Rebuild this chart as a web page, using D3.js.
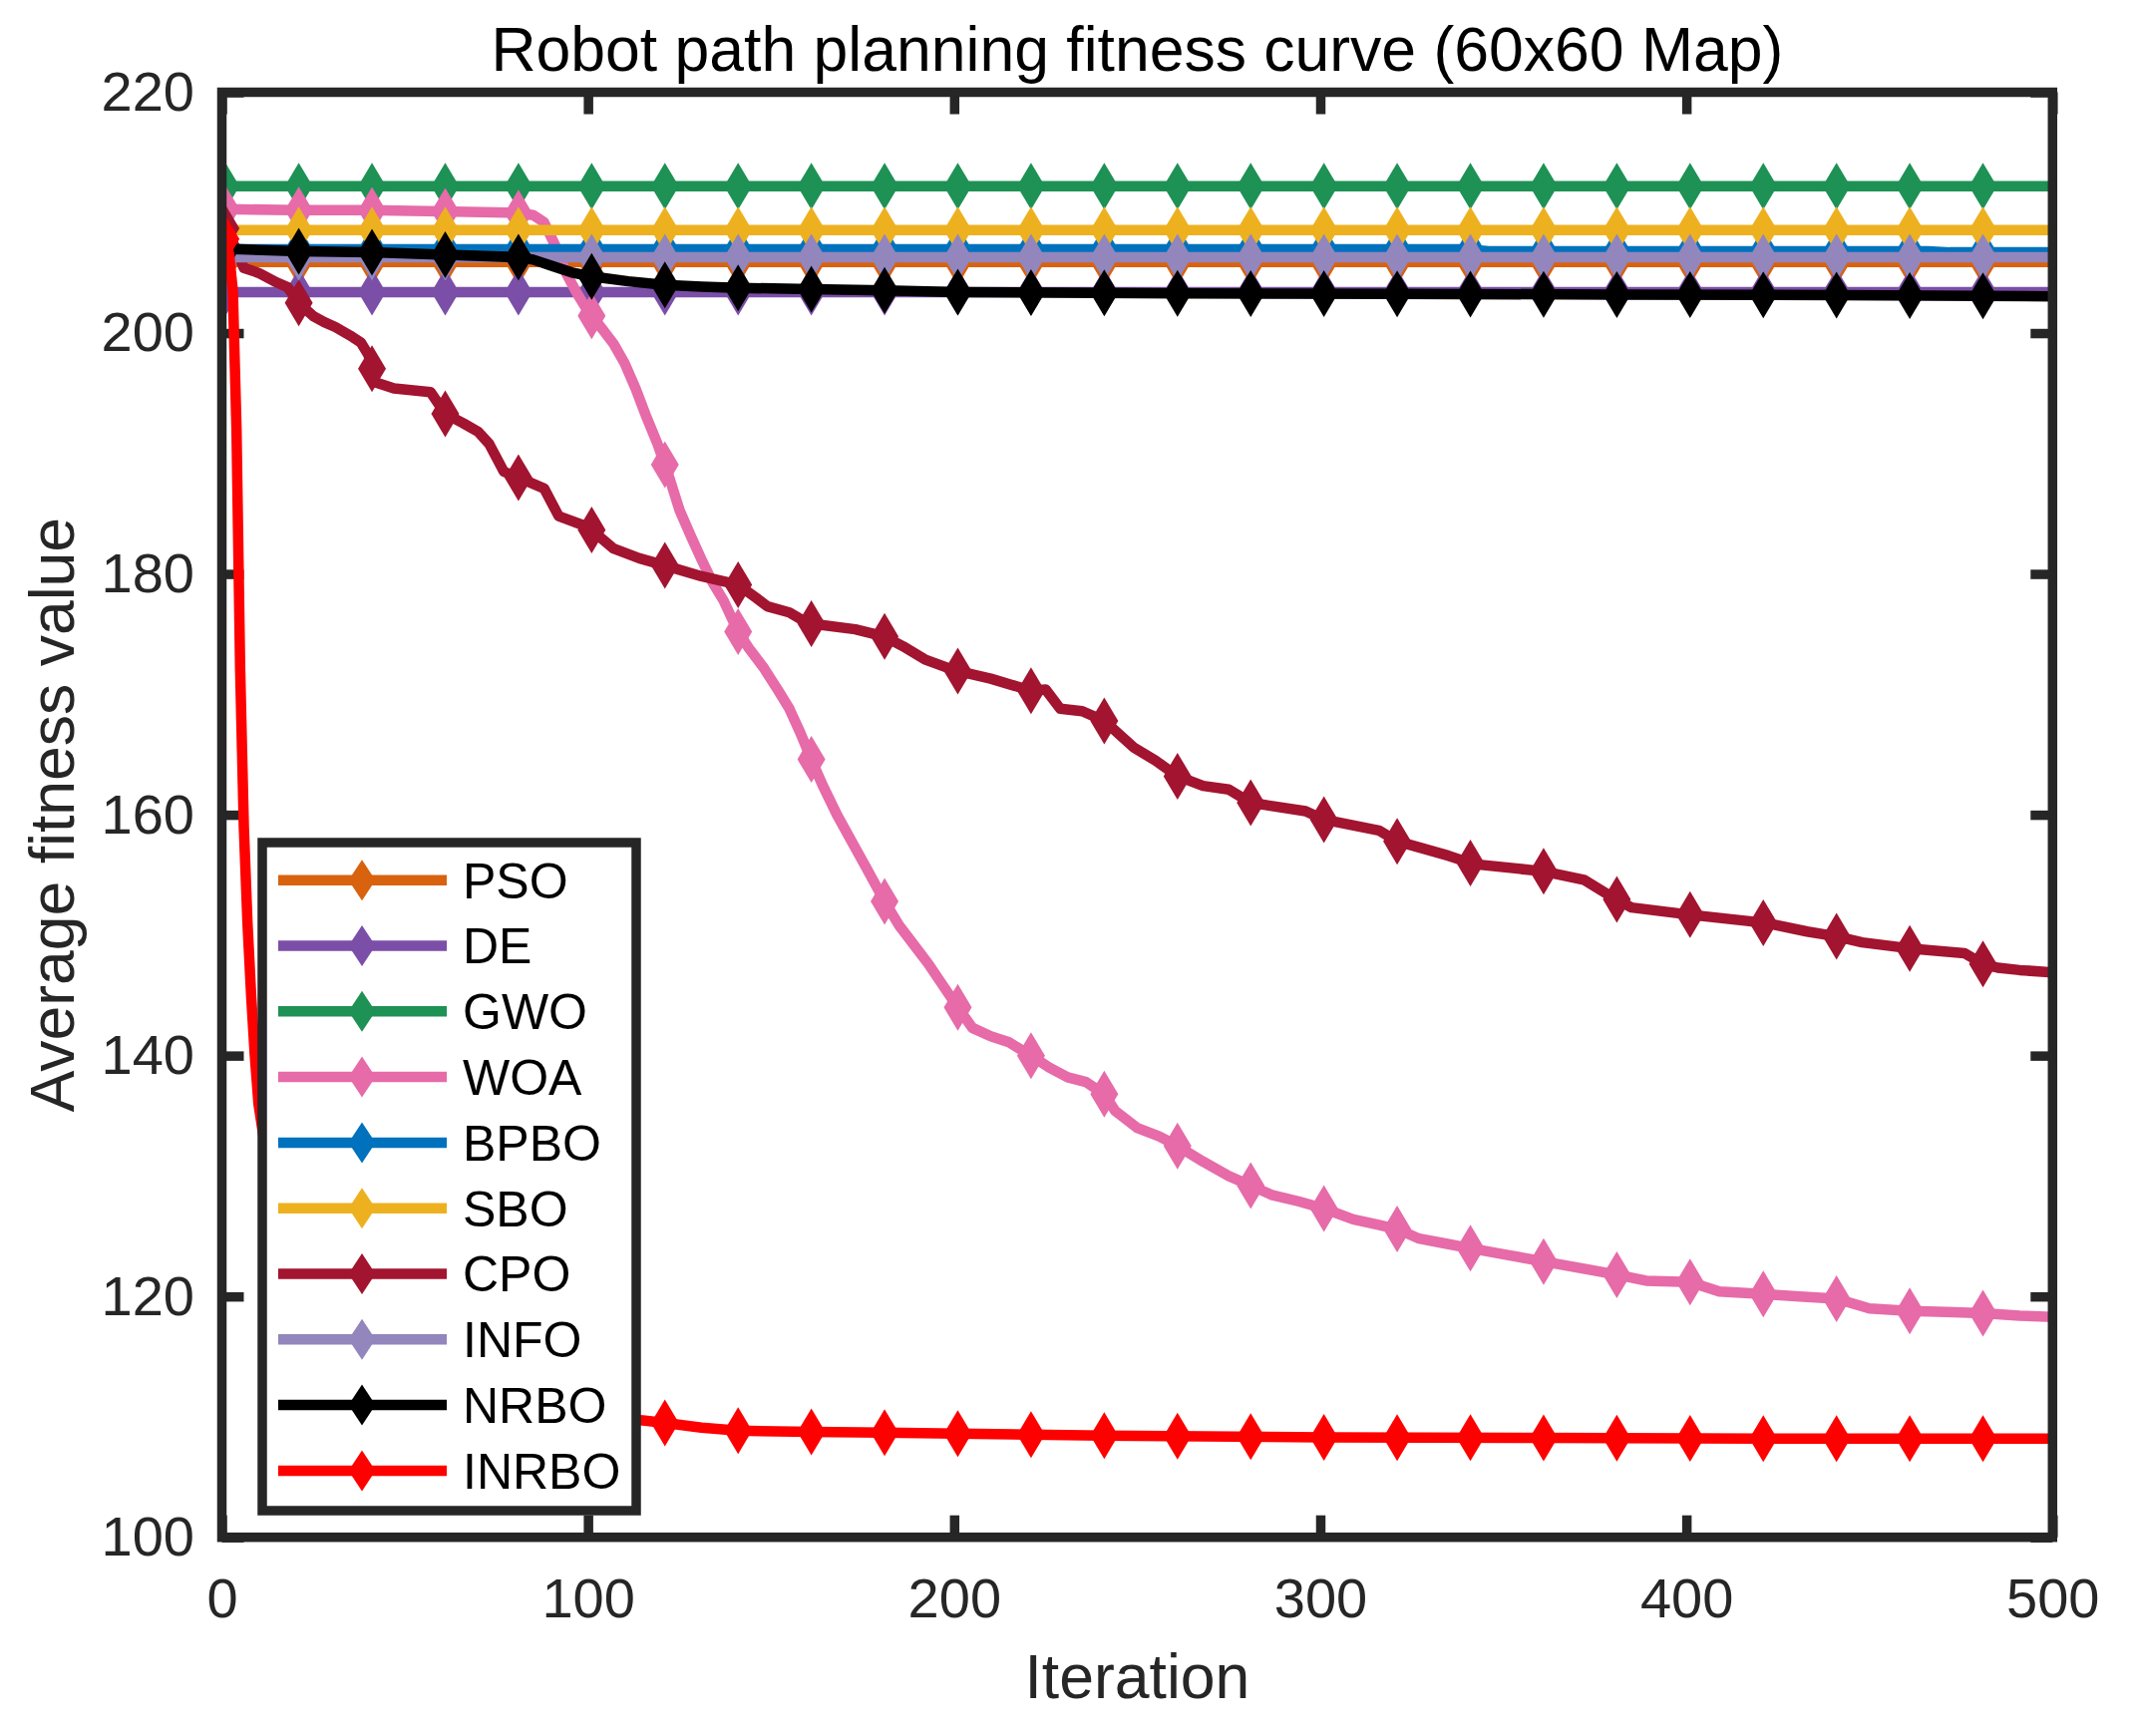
<!DOCTYPE html>
<html>
<head>
<meta charset="utf-8">
<title>Robot path planning fitness curve</title>
<script src="https://d3js.org/d3.v7.min.js"></script>
<style>
  body { margin: 0; background: #fff; }
  text { font-family: "Liberation Sans", Arial, Helvetica, sans-serif; }
</style>
</head>
<body>
<script>
// ---- data ----
const names  = ['PSO', 'DE', 'GWO', 'WOA', 'BPBO', 'SBO', 'CPO', 'INFO', 'NRBO', 'INRBO'];
const colors = ['#D9620F', '#7B4EA8', '#1E9155', '#E66BA8', '#0072BD', '#EDB120', '#A2142F', '#9286BD', '#000000', '#FF0000'];

const xTicks = [0, 100, 200, 300, 400, 500];
const yTicks = [100, 120, 140, 160, 180, 200, 220];
const markerIters = d3.range(1, 500, 20);   // a marker every 20 iterations

const psoX = [1, 500];
const psoY = [205.9, 205.9];

const deX = [1, 500];
const deY = [203.4, 203.4];

const gwoX = [1, 500];
const gwoY = [212.2, 212.2];

const woaX = [1, 20, 40, 60, 80, 85, 88, 91, 94, 97, 100, 104, 107, 110, 113, 116, 119, 122, 125, 128,
              131, 134, 137, 141, 144, 148, 152, 155, 158, 161, 164, 168, 172, 176, 181, 185, 189, 193, 197, 201,
              205, 210, 215, 221, 226, 231, 236, 241, 244, 250, 256, 261, 268, 275, 281, 287, 294, 301, 309, 315,
              321, 327, 334, 341, 350, 361, 372, 381, 389, 401, 409, 421, 431, 441, 450, 461, 471, 481, 491, 500];
const woaY = [210.3, 210.2, 210.2, 210.1, 210.0, 209.8, 209.2, 207.3, 205.0, 203.3, 201.8, 200.3, 199.1, 197.5, 195.4, 193.0, 190.8, 188.2, 185.3, 183.2,
              181.2, 179.3, 177.8, 175.2, 173.8, 172.2, 170.3, 168.8, 166.8, 164.6, 162.5, 160.0, 157.8, 155.6, 152.8, 150.8, 149.2, 147.6, 145.8, 144.0,
              142.3, 141.6, 141.1, 140.0, 139.0, 138.2, 137.8, 136.8, 135.4, 134.0, 133.3, 132.5, 131.2, 130.0, 129.2, 128.4, 127.9, 127.3, 126.4, 126.0,
              125.6, 124.8, 124.4, 124.0, 123.5, 122.9, 122.3, 121.8, 121.3, 121.2, 120.4, 120.2, 120.0, 119.8, 119.0, 118.8, 118.7, 118.6, 118.4, 118.3];

const bpboX = [1, 340, 346, 466, 472, 500];
const bpboY = [206.95, 206.95, 206.8, 206.8, 206.7, 206.7];

const sboX = [1, 500];
const sboY = [208.55, 208.55];

const cpoX = [1, 4, 6, 10, 15, 18, 21, 25, 28, 31, 35, 38, 40, 42, 47, 57, 61, 66, 70, 73,
              77, 81, 88, 92, 100, 107, 114, 121, 131, 141, 146, 149, 155, 160, 173, 181, 186, 192, 200, 210,
              221, 225, 229, 235, 241, 249, 255, 261, 268, 275, 281, 296, 301, 316, 321, 328, 335, 342, 361, 372, 379,
              385, 401, 416, 422, 433, 441, 448, 461, 476, 481, 485, 491, 500];
const cpoY = [208.7, 206.9, 205.4, 205.0, 204.2, 203.8, 202.5, 201.4, 200.9, 200.5, 199.8, 199.2, 198.2, 195.9, 195.4, 195.1, 193.3, 192.5, 191.8, 190.8,
              188.5, 188.0, 187.1, 184.8, 183.9, 182.1, 181.3, 180.7, 179.8, 179.1, 178.0, 177.3, 176.8, 175.9, 175.4, 174.8, 174.0, 172.9, 172.0, 171.3,
              170.3, 170.4, 168.8, 168.6, 167.8, 165.6, 164.5, 163.2, 162.4, 162.1, 161.0, 160.3, 159.6, 158.7, 157.8, 157.2, 156.6, 155.9, 155.3, 154.6, 153.3,
              152.3, 151.7, 151.2, 151.0, 150.3, 149.9, 149.4, 148.9, 148.5, 147.6, 147.3, 147.1, 146.9];

const infoX = [1, 500];
const infoY = [206.3, 206.3];

const nrboX = [1, 21, 41, 61, 81, 85, 90, 96, 101, 111, 121, 131, 141, 161, 181, 201, 261, 321, 381, 441, 500];
const nrboY = [207.0, 206.8, 206.7, 206.5, 206.3, 206.1, 205.6, 205.0, 204.7, 204.3, 204.0, 203.85, 203.75, 203.65, 203.55, 203.4, 203.3, 203.25, 203.2, 203.15, 203.05];

const inrboX = [1, 2, 3, 4, 5, 6, 7, 8, 9, 10, 12, 15, 20, 30, 40, 50, 60, 70, 80, 90,
                100, 110, 115, 121, 131, 141, 161, 181, 201, 241, 301, 361, 421, 481, 500];
const inrboY = [207.8, 206.5, 203.5, 192.0, 172.0, 159.0, 151.0, 145.0, 140.0, 136.0, 132.0, 128.0, 124.0, 119.0, 116.0, 114.0, 112.8, 111.8, 111.0, 110.5,
                110.1, 109.8, 109.7, 109.5, 109.1, 108.85, 108.75, 108.7, 108.6, 108.45, 108.3, 108.25, 108.2, 108.2, 108.2];

const xsList = [psoX, deX, gwoX, woaX, bpboX, sboX, cpoX, infoX, nrboX, inrboX];
const ysList = [psoY, deY, gwoY, woaY, bpboY, sboY, cpoY, infoY, nrboY, inrboY];

const series = names.map((n, i) => ({
    name: n,
    color: colors[i],
    pts: xsList[i].map((x, j) => [x, ysList[i][j]])
}));

// ---- layout ----
const W = 2139, H = 1741;
const pLeft = 222.5, pRight = 2058.3, pTop = 92.5, pBottom = 1541.7;
const axisColor = '#262626';
const frameW = 9.5, tickLen = 22, lineW = 10.5;

const svg = d3.select('body').append('svg').attr('width', W).attr('height', H);

const xScale = d3.scaleLinear().domain([0, 500]).range([pLeft, pRight]);
const yScale = d3.scaleLinear().domain([100, 220]).range([pBottom, pTop]);

svg.append('defs').append('clipPath').attr('id', 'plotclip')
    .append('rect')
    .attr('x', pLeft).attr('y', pTop)
    .attr('width', pRight - pLeft).attr('height', pBottom - pTop);

// axes (ticks inward on all four sides)
function styleAxis(g, fontSize) {
    g.select('.domain').remove();
    g.selectAll('.tick line').attr('stroke', axisColor).attr('stroke-width', frameW);
    g.selectAll('.tick text').attr('fill', axisColor)
        .style('font-family', '"Liberation Sans", Arial, sans-serif')
        .style('font-size', fontSize + 'px');
}

svg.append('g').attr('transform', `translate(0,${pBottom})`)
    .call(d3.axisBottom(xScale).tickValues(xTicks).tickSizeInner(-tickLen).tickSizeOuter(0).tickPadding(41))
    .call(g => styleAxis(g, 56));

svg.append('g').attr('transform', `translate(0,${pTop})`)
    .call(d3.axisTop(xScale).tickValues(xTicks).tickSizeInner(-tickLen).tickSizeOuter(0).tickFormat(''))
    .call(g => styleAxis(g, 56));

svg.append('g').attr('transform', `translate(${pLeft},0)`)
    .call(d3.axisLeft(yScale).tickValues(yTicks).tickSizeInner(-tickLen).tickSizeOuter(0).tickPadding(27.5))
    .call(g => styleAxis(g, 56));

svg.append('g').attr('transform', `translate(${pRight},0)`)
    .call(d3.axisRight(yScale).tickValues(yTicks).tickSizeInner(-tickLen).tickSizeOuter(0).tickFormat(''))
    .call(g => styleAxis(g, 56));

// curves
const line = d3.line().x(d => xScale(d[0])).y(d => yScale(d[1]));
const diamondPlot = 'M0,-23.5L14,0L0,23.5L-14,0Z';
const diamondLegend = 'M0,-20.5L13.5,0L0,20.5L-13.5,0Z';

function valueAt(pts, it) {
    const xs = pts.map(p => p[0]);
    const k = d3.bisectLeft(xs, it);
    if (k < pts.length && xs[k] === it) return pts[k][1];
    if (k <= 0) return pts[0][1];
    if (k >= pts.length) return pts[pts.length - 1][1];
    const a = pts[k - 1], b = pts[k];
    return a[1] + (b[1] - a[1]) * (it - a[0]) / (b[0] - a[0]);
}

const plot = svg.append('g').attr('clip-path', 'url(#plotclip)');

series.forEach(s => {
    const g = plot.append('g');
    g.append('path')
        .datum(s.pts)
        .attr('d', line)
        .attr('fill', 'none')
        .attr('stroke', s.color)
        .attr('stroke-width', lineW)
        .attr('stroke-linejoin', 'round');
    g.selectAll('path.mk')
        .data(markerIters)
        .enter()
        .append('path')
        .attr('class', 'mk')
        .attr('d', diamondPlot)
        .attr('fill', s.color)
        .attr('transform', d => `translate(${xScale(d)},${yScale(valueAt(s.pts, d))})`);
});

// box
svg.append('rect')
    .attr('x', pLeft).attr('y', pTop)
    .attr('width', pRight - pLeft).attr('height', pBottom - pTop)
    .attr('fill', 'none')
    .attr('stroke', axisColor)
    .attr('stroke-width', frameW);

// legend
const lgX = 263, lgY = 845, lgW = 375, lgH = 670;
const lg = svg.append('g');
lg.append('rect')
    .attr('x', lgX).attr('y', lgY).attr('width', lgW).attr('height', lgH)
    .attr('fill', '#fff')
    .attr('stroke', axisColor)
    .attr('stroke-width', frameW);

const entry = lg.selectAll('g.entry')
    .data(series)
    .enter()
    .append('g')
    .attr('class', 'entry')
    .attr('transform', (d, i) => `translate(0,${882.7 + i * 65.8})`);

entry.append('line')
    .attr('x1', 279).attr('x2', 448)
    .attr('stroke', d => d.color)
    .attr('stroke-width', lineW);
entry.append('path')
    .attr('d', diamondLegend)
    .attr('transform', 'translate(363,0)')
    .attr('fill', d => d.color);
entry.append('text')
    .attr('x', 464).attr('y', 17.8)
    .attr('font-size', '50px')
    .attr('fill', '#000')
    .text(d => d.name);

// titles
svg.append('text')
    .attr('x', (pLeft + pRight) / 2).attr('y', 71)
    .attr('text-anchor', 'middle')
    .attr('font-size', '62.5px')
    .attr('fill', '#000')
    .text('Robot path planning fitness curve (60x60 Map)');

svg.append('text')
    .attr('x', (pLeft + pRight) / 2).attr('y', 1703)
    .attr('text-anchor', 'middle')
    .attr('font-size', '62.5px')
    .attr('fill', axisColor)
    .text('Iteration');

svg.append('text')
    .attr('transform', `translate(74,${(pTop + pBottom) / 2}) rotate(-90)`)
    .attr('text-anchor', 'middle')
    .attr('font-size', '62.5px')
    .attr('fill', axisColor)
    .text('Average fitness value');
</script>
</body>
</html>
